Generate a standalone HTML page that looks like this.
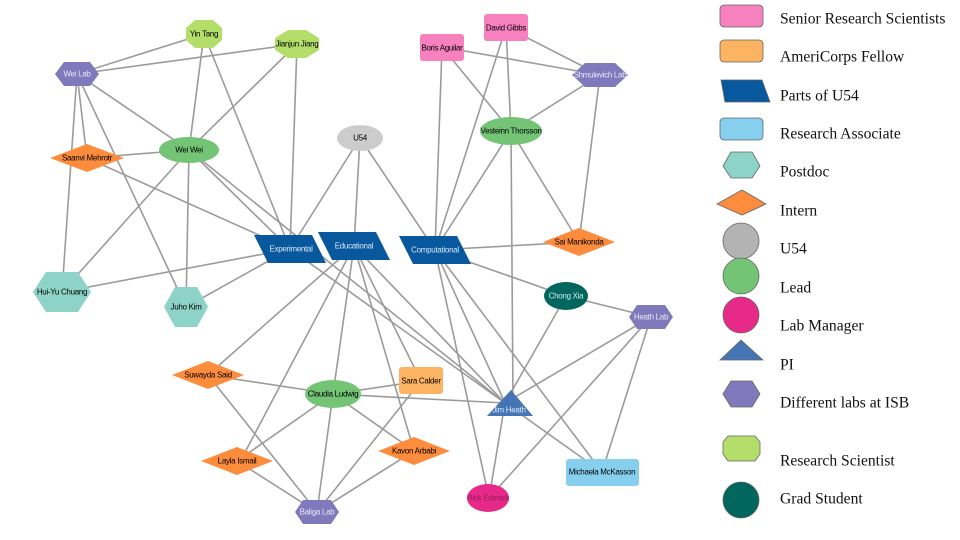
<!DOCTYPE html>
<html><head><meta charset="utf-8"><style>
html,body{margin:0;padding:0;background:#fff;}
svg{display:block;}
.e line{stroke:#9b9b9b;stroke-width:1.6;}
.n text{font-family:"Liberation Sans",sans-serif;font-size:8px;text-anchor:middle;dominant-baseline:central;letter-spacing:-0.3px;}
.lg text{font-family:"Liberation Serif",serif;font-size:15.6px;fill:#111;dominant-baseline:central;}
</style></head><body>
<svg width="960" height="540" viewBox="0 0 960 540" xmlns="http://www.w3.org/2000/svg">
<g class="e">
<line x1="77" y1="74" x2="204" y2="34"/>
<line x1="77" y1="74" x2="297" y2="44"/>
<line x1="77" y1="74" x2="189" y2="150"/>
<line x1="77" y1="74" x2="87" y2="158"/>
<line x1="77" y1="74" x2="62" y2="292"/>
<line x1="77" y1="74" x2="186" y2="307"/>
<line x1="204" y1="34" x2="189" y2="150"/>
<line x1="204" y1="34" x2="290" y2="249"/>
<line x1="297" y1="44" x2="189" y2="150"/>
<line x1="297" y1="44" x2="290" y2="249"/>
<line x1="87" y1="158" x2="189" y2="150"/>
<line x1="87" y1="158" x2="290" y2="249"/>
<line x1="189" y1="150" x2="62" y2="292"/>
<line x1="189" y1="150" x2="186" y2="307"/>
<line x1="189" y1="150" x2="290" y2="249"/>
<line x1="189" y1="150" x2="505" y2="403"/>
<line x1="290" y1="249" x2="62" y2="292"/>
<line x1="290" y1="249" x2="186" y2="307"/>
<line x1="290" y1="249" x2="505" y2="403"/>
<line x1="360" y1="138" x2="290" y2="249"/>
<line x1="360" y1="138" x2="354" y2="246"/>
<line x1="360" y1="138" x2="435" y2="250"/>
<line x1="354" y1="246" x2="208" y2="375"/>
<line x1="354" y1="246" x2="243" y2="456"/>
<line x1="354" y1="246" x2="333" y2="394"/>
<line x1="354" y1="246" x2="414" y2="451"/>
<line x1="354" y1="246" x2="421" y2="381"/>
<line x1="354" y1="246" x2="505" y2="403"/>
<line x1="435" y1="250" x2="442" y2="47"/>
<line x1="435" y1="250" x2="506" y2="27"/>
<line x1="435" y1="250" x2="511" y2="131"/>
<line x1="435" y1="250" x2="579" y2="242"/>
<line x1="435" y1="250" x2="566" y2="296"/>
<line x1="435" y1="250" x2="505" y2="403"/>
<line x1="435" y1="250" x2="489" y2="498"/>
<line x1="435" y1="250" x2="602" y2="472"/>
<line x1="442" y1="47" x2="600" y2="75"/>
<line x1="442" y1="47" x2="511" y2="131"/>
<line x1="506" y1="27" x2="511" y2="131"/>
<line x1="506" y1="27" x2="600" y2="75"/>
<line x1="600" y1="75" x2="511" y2="131"/>
<line x1="600" y1="75" x2="579" y2="242"/>
<line x1="511" y1="131" x2="579" y2="242"/>
<line x1="511" y1="131" x2="513" y2="400"/>
<line x1="566" y1="296" x2="651" y2="317"/>
<line x1="566" y1="296" x2="505" y2="403"/>
<line x1="651" y1="317" x2="505" y2="403"/>
<line x1="651" y1="317" x2="489" y2="498"/>
<line x1="651" y1="317" x2="602" y2="472"/>
<line x1="505" y1="403" x2="489" y2="498"/>
<line x1="505" y1="403" x2="602" y2="472"/>
<line x1="333" y1="394" x2="505" y2="403"/>
<line x1="333" y1="394" x2="421" y2="381"/>
<line x1="333" y1="394" x2="208" y2="375"/>
<line x1="333" y1="394" x2="237" y2="461"/>
<line x1="333" y1="394" x2="317" y2="512"/>
<line x1="333" y1="394" x2="414" y2="451"/>
<line x1="208" y1="375" x2="317" y2="512"/>
<line x1="237" y1="461" x2="317" y2="512"/>
<line x1="414" y1="451" x2="317" y2="512"/>
<line x1="421" y1="381" x2="317" y2="512"/>
</g>
<g class="n">
<polygon points="195,20 213,20 222,28 222,40 213,48 195,48 186,40 186,28" fill="#b3de69"/><text x="204" y="34">Yin Tang</text>
<polygon points="288,30 306,30 319,38 319,50 306,58 288,58 275,50 275,38" fill="#b3de69"/><text x="297" y="44">Jianjun Jiang</text>
<polygon points="55,74 64,62 90,62 99,74 90,86 64,86" fill="#8079bb"/><text x="77" y="74" fill="#e8e8f5">Wei Lab</text>
<polygon points="50,158 87,144 124,158 87,172" fill="#fd8d3c"/><text x="87" y="158">Saanvi Mehrotr</text>
<ellipse cx="189" cy="150" rx="30" ry="13" fill="#74c476"/><text x="189" y="150">Wei Wei</text>
<ellipse cx="360" cy="138" rx="23" ry="13" fill="#cccccc"/><text x="360" y="138">U54</text>
<rect x="420" y="34" width="44" height="27" rx="3" fill="#f781bf"/><text x="442" y="48">Boris Aguilar</text>
<rect x="484" y="14" width="44" height="27" rx="3" fill="#f781bf"/><text x="506" y="28">David Gibbs</text>
<polygon points="572,75 585,63 615,63 628,75 615,87 585,87" fill="#8079bb"/><text x="600" y="75" fill="#e8e8f5">Shmulevich Lab</text>
<ellipse cx="511" cy="131" rx="31" ry="14" fill="#74c476"/><text x="511" y="131">Vesteinn Thorsson</text>
<polygon points="543,242 579,228 615,242 579,256" fill="#fd8d3c"/><text x="579" y="242">Sai Manikonda</text>
<polygon points="254,235 312,235 326,263 268,263" fill="#08589e"/><text x="291" y="249" fill="#d8e6f5">Experimental</text>
<polygon points="318,232 376,232 390,260 332,260" fill="#08589e"/><text x="354" y="246" fill="#d8e6f5">Educational</text>
<polygon points="399,236 457,236 471,264 413,264" fill="#08589e"/><text x="435" y="250" fill="#d8e6f5">Computational</text>
<polygon points="33,292 46,272 78,272 91,292 78,312 46,312" fill="#8dd3c7"/><text x="62" y="292">Hui-Yu Chuang</text>
<polygon points="164,307 175,287 197,287 208,307 197,327 175,327" fill="#8dd3c7"/><text x="186" y="307">Juho Kim</text>
<ellipse cx="566" cy="296" rx="22" ry="14" fill="#01665e"/><text x="566" y="296" fill="#d0ece8">Chong Xia</text>
<polygon points="629,317 637,305 665,305 673,317 665,329 637,329" fill="#8079bb"/><text x="651" y="317" fill="#e8e8f5">Heath Lab</text>
<polygon points="172,375 208,361 244,375 208,389" fill="#fd8d3c"/><text x="208" y="375">Suwayda Said</text>
<ellipse cx="333" cy="394" rx="28" ry="14" fill="#74c476"/><text x="333" y="394">Claudia Ludwig</text>
<rect x="399" y="367" width="44" height="27" rx="3" fill="#fdb462"/><text x="421" y="381">Sara Calder</text>
<polygon points="487,416 511,390 533,416" fill="#4575b4"/><text x="509" y="410" fill="#d8e6f5">Jim Heath</text>
<polygon points="201,461 237,447 273,461 237,475" fill="#fd8d3c"/><text x="237" y="461">Layla Ismail</text>
<polygon points="378,451 414,437 450,451 414,465" fill="#fd8d3c"/><text x="414" y="451">Kavon Arbabi</text>
<polygon points="295,512 303,500 331,500 339,512 331,524 303,524" fill="#8079bb"/><text x="317" y="512" fill="#e8e8f5">Baliga Lab</text>
<ellipse cx="488" cy="498" rx="21" ry="14" fill="#e7298a"/><text x="488" y="498" fill="#9b1b5c">Rick Edmark</text>
<rect x="566" y="459" width="73" height="27" rx="3" fill="#87cfef"/><text x="602" y="472">Michaela McKasson</text>
</g>
<g class="lg" stroke="#666" stroke-width="0.8">
<rect x="720" y="5" width="43" height="22" rx="4" fill="#f781bf"/>
<rect x="720" y="40" width="43" height="22" rx="4" fill="#fdb462"/>
<polygon points="721,80 762,80 770,102 725,102" fill="#08589e"/>
<rect x="720" y="118" width="43" height="22" rx="4" fill="#87cfef"/>
<polygon points="723,166 731,152 752,152 760,166 752,178 731,178" fill="#8dd3c7"/>
<polygon points="717,204 742,190 766,204 742,215" fill="#fd8d3c"/>
<circle cx="741" cy="241" r="18" fill="#b3b3b3"/>
<circle cx="741" cy="276" r="18" fill="#74c476"/>
<circle cx="741" cy="315" r="18" fill="#e7298a"/>
<polygon points="720,360 741,340 763,360" fill="#4575b4"/>
<polygon points="723,394 731,381 752,381 760,394 752,407 731,407" fill="#8079bb"/>
<polygon points="728,436 755,436 760,442 760,454 755,461 728,461 723,454 723,442" fill="#b3de69"/>
<circle cx="741" cy="500" r="18" fill="#01665e"/>
</g>
<g class="lg">
<text x="780" y="19">Senior Research Scientists</text>
<text x="780" y="57">AmeriCorps Fellow</text>
<text x="780" y="96">Parts of U54</text>
<text x="780" y="134">Research Associate</text>
<text x="780" y="172">Postdoc</text>
<text x="780" y="211">Intern</text>
<text x="780" y="249">U54</text>
<text x="780" y="288">Lead</text>
<text x="780" y="326">Lab Manager</text>
<text x="780" y="365">PI</text>
<text x="780" y="403">Different labs at ISB</text>
<text x="780" y="461">Research Scientist</text>
<text x="780" y="499">Grad Student</text>
</g>
</svg>
</body></html>
